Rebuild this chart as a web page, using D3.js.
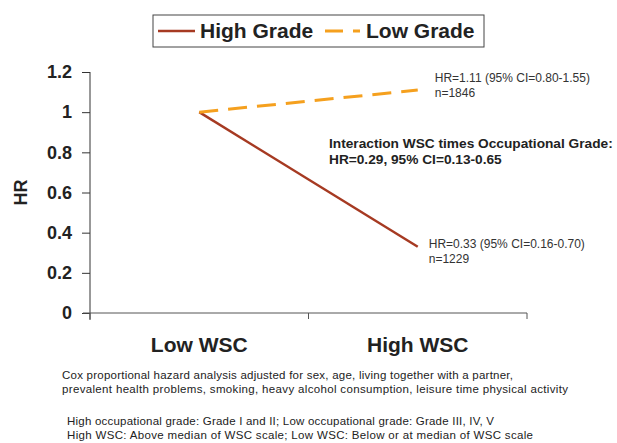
<!DOCTYPE html>
<html>
<head>
<meta charset="utf-8">
<script src="https://cdn.jsdelivr.net/npm/d3@7"></script>
<style>
  body { margin: 0; background: #fff; }
  svg { font-family: "Liberation Sans", Arial, sans-serif; }
</style>
</head>
<body>
<svg id="chart" width="617" height="443"></svg>
<script>
const svg = d3.select("#chart");

const categories = ["Low WSC", "High WSC"];
const highGrade = [1, 0.33];
const lowGrade = [1, 1.11];
const yTicks = [0, 0.2, 0.4, 0.6, 0.8, 1, 1.2];
const seriesNames = ["High Grade", "Low Grade"];
const highColor = "#A63A22";
const lowColor = "#F5A01E";

const margin = { top: 72, right: 90, bottom: 130, left: 90 };
const width = 617 - margin.left - margin.right;
const height = 443 - margin.top - margin.bottom;

const x = d3.scalePoint().domain(categories).range([0, width]).padding(0.5);
const xBand = d3.scaleBand().domain(categories).range([0, width]);
const y = d3.scaleLinear().domain([0, 1.2]).range([height, 0]);

const g = svg.append("g").attr("transform", `translate(${margin.left},${margin.top})`);

// y axis
const yAxisG = g.append("g").call(d3.axisLeft(y).tickValues(yTicks).tickSize(8).tickFormat(d => d3.format("")(d)));
yAxisG.select(".domain").attr("d", `M0,0V${height + 7}`).attr("stroke", "#333");
yAxisG.selectAll(".tick line").attr("stroke", "#333");
yAxisG.selectAll(".tick text")
  .attr("x", -18)
  .style("font-size", "18px")
  .style("font-weight", "bold")
  .attr("fill", "#222");

// x axis
const xAxisG = g.append("g").attr("transform", `translate(0,${height})`);
xAxisG.append("line").attr("x1", -7).attr("x2", width).attr("stroke", "#555");
const xTickPos = [0, xBand.bandwidth(), width];
xAxisG.selectAll(".xt").data(xTickPos).join("line")
  .attr("x1", d => d).attr("x2", d => d).attr("y1", 0).attr("y2", 6)
  .attr("stroke", "#555");
xAxisG.selectAll(".xl").data(categories).join("text")
  .attr("x", d => x(d)).attr("y", 39)
  .attr("text-anchor", "middle")
  .style("font-size", "21px").style("font-weight", "bold").attr("fill", "#222")
  .text(d => d);

// y label
g.append("text")
  .attr("transform", `translate(-63,${y(0.6)}) rotate(-90)`)
  .attr("text-anchor", "middle")
  .style("font-size", "18px").style("font-weight", "bold").attr("fill", "#222")
  .text("HR");

// lines
const line = d3.line().x((d, i) => x(categories[i])).y(d => y(d));
g.append("path").datum(highGrade).attr("d", line)
  .attr("fill", "none").attr("stroke", highColor).attr("stroke-width", 2.5);
g.append("path").datum(lowGrade).attr("d", line)
  .attr("fill", "none").attr("stroke", lowColor).attr("stroke-width", 3)
  .attr("stroke-dasharray", "19,10");

// annotations
const annot = g.append("g").style("font-size", "12px").attr("fill", "#333");
annot.append("text").attr("x", x("High WSC") + 17).attr("y", y(lowGrade[1]) - 8)
  .text("HR=1.11 (95% CI=0.80-1.55)");
annot.append("text").attr("x", x("High WSC") + 17).attr("y", y(lowGrade[1]) + 7)
  .text("n=1846");
annot.append("text").attr("x", x("High WSC") + 11).attr("y", y(highGrade[1]) + 1)
  .text("HR=0.33 (95% CI=0.16-0.70)");
annot.append("text").attr("x", x("High WSC") + 11).attr("y", y(highGrade[1]) + 16)
  .text("n=1229");

const bold = g.append("g").style("font-size", "13.7px").style("font-weight", "bold").attr("fill", "#222");
bold.append("text").attr("x", 239).attr("y", 76).text("Interaction WSC times Occupational Grade:");
bold.append("text").attr("x", 239).attr("y", 92).text("HR=0.29, 95% CI=0.13-0.65");

// legend
const legend = svg.append("g").attr("transform", "translate(153,15)");
legend.append("rect").attr("width", 331).attr("height", 32)
  .attr("fill", "#fff").attr("stroke", "#444").attr("stroke-width", 1);
legend.append("line").attr("x1", 5).attr("x2", 42).attr("y1", 16).attr("y2", 16)
  .attr("stroke", highColor).attr("stroke-width", 2.5);
legend.append("text").attr("x", 47).attr("y", 23)
  .style("font-size", "21px").style("font-weight", "bold").attr("fill", "#222")
  .text(seriesNames[0]);
legend.append("line").attr("x1", 172).attr("x2", 207).attr("y1", 16).attr("y2", 16)
  .attr("stroke", lowColor).attr("stroke-width", 3).attr("stroke-dasharray", "18,10");
legend.append("text").attr("x", 213).attr("y", 23)
  .style("font-size", "21px").style("font-weight", "bold").attr("fill", "#222")
  .text(seriesNames[1]);

// footnotes
const notes = [
  { x: 62, y: 379, w: 451, t: "Cox proportional hazard analysis adjusted for sex, age, living together with a partner," },
  { x: 62, y: 393, w: 506, t: "prevalent health problems, smoking, heavy alcohol consumption, leisure time physical activity" },
  { x: 67, y: 425, w: 427, t: "High occupational grade: Grade I and II; Low occupational grade: Grade III, IV, V" },
  { x: 67, y: 439, w: 466, t: "High WSC: Above median of WSC scale; Low WSC: Below or at median of WSC scale" }
];
svg.append("g").selectAll("text").data(notes).join("text")
  .attr("x", d => d.x).attr("y", d => d.y)
  .attr("textLength", d => d.w).attr("lengthAdjust", "spacing")
  .style("font-size", "11.5px").attr("fill", "#222")
  .text(d => d.t);
</script>
</body>
</html>
